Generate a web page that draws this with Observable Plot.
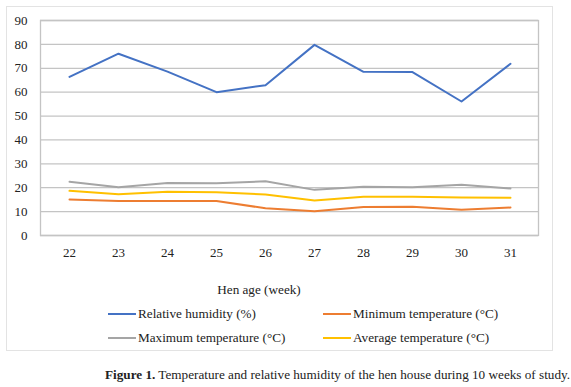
<!DOCTYPE html>
<html>
<head>
<meta charset="utf-8">
<script src="https://cdn.jsdelivr.net/npm/d3@7"></script>
<script src="https://cdn.jsdelivr.net/npm/@observablehq/plot@0.6"></script>
<style>
  html, body { margin: 0; padding: 0; background: #fff; }
  body { width: 571px; height: 387px; overflow: hidden; font-family: "Liberation Serif", serif; color: #222; }
  #wrap { position: relative; width: 571px; height: 387px; }
  #box { position: absolute; left: 6px; top: 6px; width: 545px; height: 343px; border: 1.5px solid #e3e3e3; }
  #chart { position: absolute; left: 0; top: 0; }
  .t { position: absolute; font-size: 13.2px; white-space: nowrap; line-height: 1; }
  .leg { position: absolute; font-size: 13.2px; white-space: nowrap; line-height: 1; display: flex; align-items: center; }
  .leg .sw { display: inline-block; width: 28px; height: 2px; margin-right: 2px; }
</style>
</head>
<body>
<div id="wrap">
  <div id="box"></div>
  <div id="chart"></div>
  <div class="t" id="xtitle" style="left:0;width:518px;text-align:center;top:283px;">Hen age (week)</div>
  <div id="legend"></div>
  <div class="t" style="left:105px;top:368px;font-size:13.2px;"><b>Figure 1.</b> Temperature and relative humidity of the hen house during 10 weeks of study.</div>
</div>
<script>
const weeks = [22, 23, 24, 25, 26, 27, 28, 29, 30, 31];
const humidity = [66.4, 76.1, 68.6, 60.0, 62.9, 79.8, 68.5, 68.4, 56.1, 71.9];
const minTemp = [15.1, 14.4, 14.4, 14.4, 11.4, 10.2, 11.9, 12.0, 10.8, 11.7];
const maxTemp = [22.5, 20.2, 22.0, 21.9, 22.7, 19.1, 20.4, 20.2, 21.2, 19.7];
const avgTemp = [18.7, 17.3, 18.3, 18.1, 17.2, 14.7, 16.2, 16.2, 15.9, 15.8];
const seriesNames = ["Relative humidity (%)", "Minimum temperature (°C)", "Maximum temperature (°C)", "Average temperature (°C)"];
const seriesColors = ["#4472C4", "#ED7D31", "#A5A5A5", "#FFC000"];
const yTicks = [0, 10, 20, 30, 40, 50, 60, 70, 80, 90];

const seriesValues = [humidity, minTemp, maxTemp, avgTemp];
const rows = [];
seriesNames.forEach((name, i) => {
  weeks.forEach((w, j) => rows.push({series: name, week: w, value: seriesValues[i][j]}));
});

const chart = Plot.plot({
  width: 571,
  height: 265,
  marginLeft: 40,
  marginRight: 33,
  marginTop: 20,
  marginBottom: 30,
  style: {fontFamily: "'Liberation Serif', serif", fontSize: "13px", color: "#222", background: "transparent"},
  x: {type: "point", domain: weeks, padding: 0.5, label: null, tickSize: 0, tickPadding: 12},
  y: {domain: [0, 90], ticks: yTicks, label: null, tickSize: 0, tickPadding: 13},
  color: {domain: seriesNames, range: seriesColors},
  marks: [
    Plot.gridY(yTicks, {stroke: "#c4c4c4", strokeOpacity: 1, strokeWidth: 1.3}),
    Plot.frame({stroke: "#c4c4c4", strokeWidth: 1.3}),
    Plot.axisY({ticks: yTicks, tickSize: 0, tickPadding: 13, label: null}),
    Plot.axisX({tickSize: 0, tickPadding: 12, label: null}),
    Plot.line(rows, {x: "week", y: "value", z: "series", stroke: "series", strokeWidth: 2})
  ]
});
document.getElementById("chart").appendChild(chart);

// legend
const legPos = [[108, 307], [323, 307], [108, 331], [323, 331]];
const legendOrder = [0, 1, 2, 3];
const legend = document.getElementById("legend");
legendOrder.forEach((i, k) => {
  const d = document.createElement("div");
  d.className = "leg";
  d.style.left = legPos[k][0] + "px";
  d.style.top = legPos[k][1] + "px";
  d.innerHTML = `<span class="sw" style="background:${seriesColors[i]}"></span><span>${seriesNames[i]}</span>`;
  legend.appendChild(d);
});
</script>
</body>
</html>
